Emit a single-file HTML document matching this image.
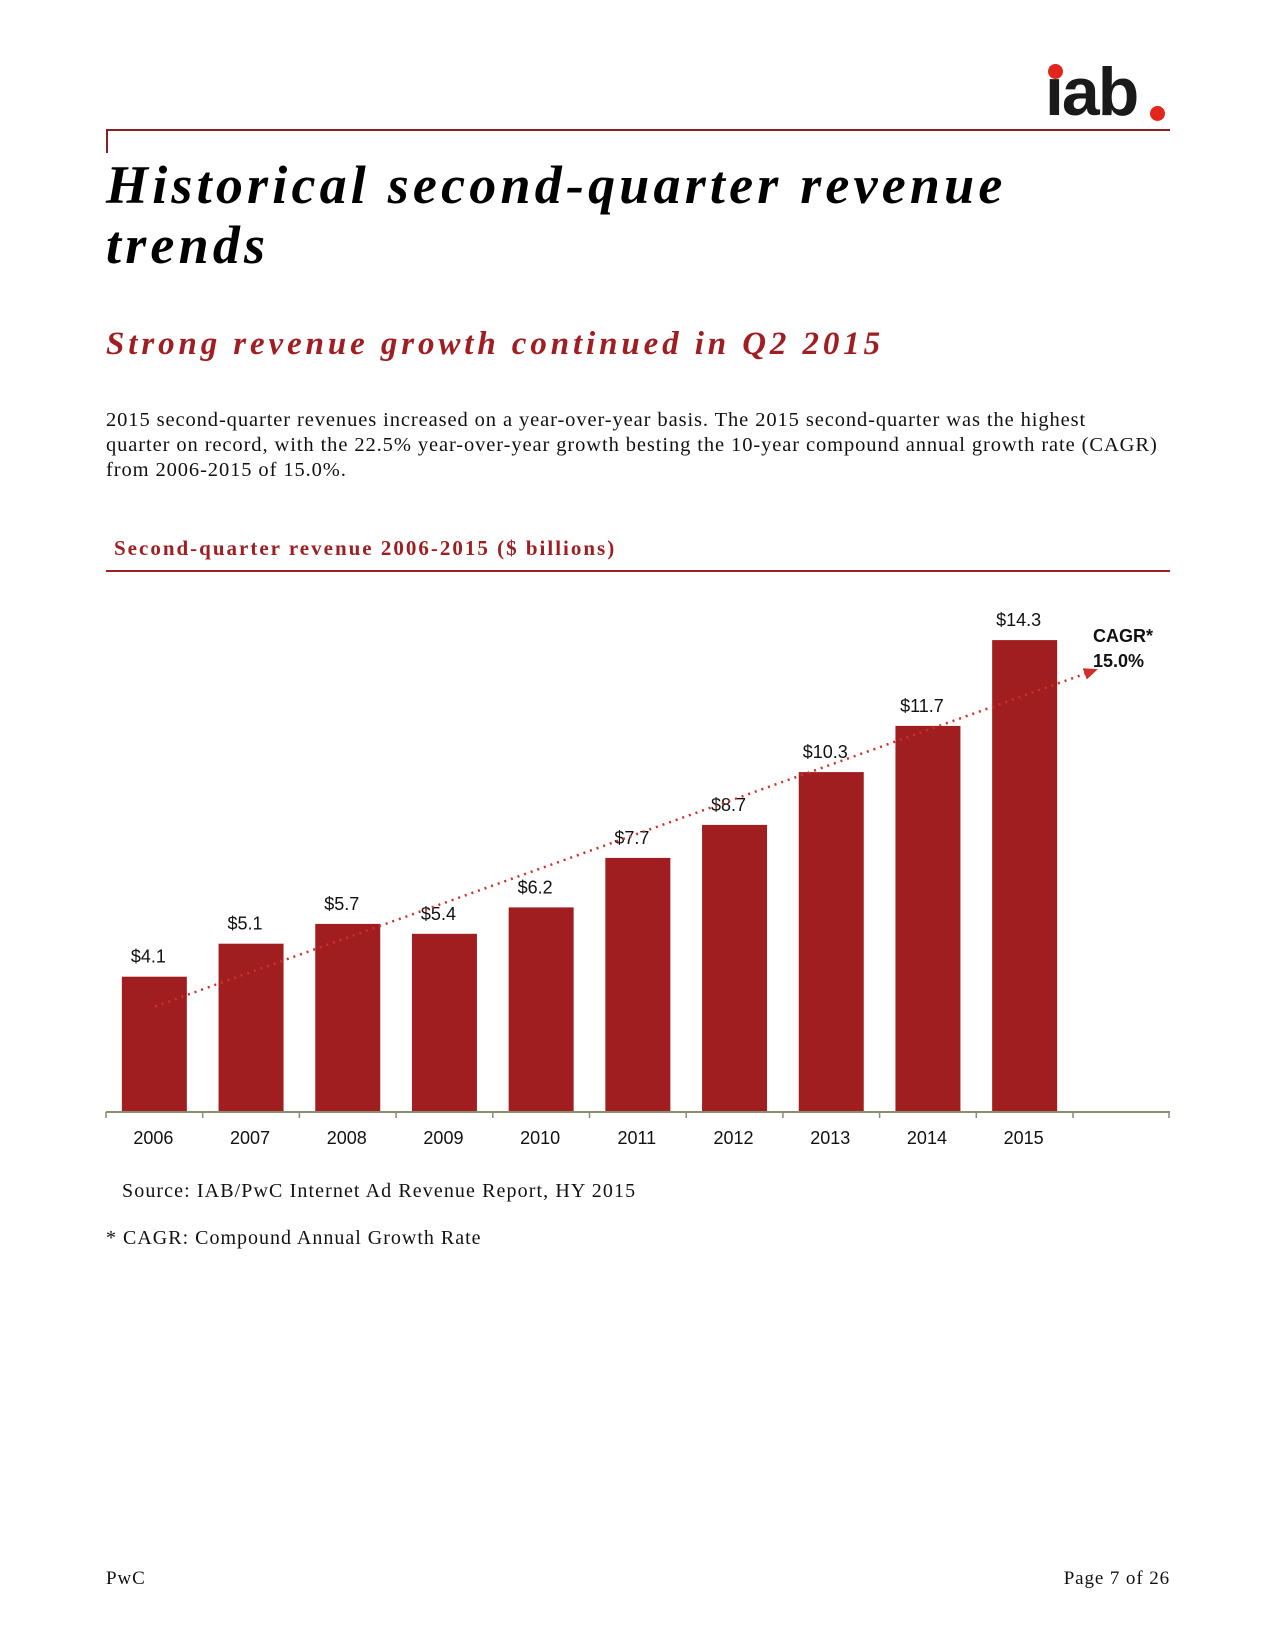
<!DOCTYPE html>
<html><head><meta charset="utf-8"><style>
body{margin:0;width:1275px;height:1650px;background:#fff;position:relative;overflow:hidden;font-family:"Liberation Serif",serif;}
.a{position:absolute;white-space:nowrap;}
.title{font-weight:bold;font-style:italic;font-size:54px;letter-spacing:4.2px;color:#000;}
.sub{font-weight:bold;font-style:italic;font-size:33px;letter-spacing:3.9px;color:#a01e22;}
.p{font-size:20.5px;color:#111;letter-spacing:0.9px;}
</style></head><body>
<div class="a" style="left:106px;top:129px;width:1064px;height:2px;background:#8b1f28"></div>
<div class="a" style="left:106px;top:129px;width:2px;height:24px;background:#8b1f28"></div>
<div class="a" style="left:1045px;top:58px;font-family:'Liberation Sans',sans-serif;font-weight:bold;font-size:68px;color:#1a1a1a;letter-spacing:-2px;line-height:68px">iab</div>
<div class="a" style="left:1048px;top:64px;width:15px;height:15px;border-radius:50%;background:#e2261c"></div>
<div class="a" style="left:1150px;top:106px;width:15px;height:15px;border-radius:50%;background:#e2261c"></div>
<div class="a title" style="left:106px;top:155px;line-height:60px">Historical second-quarter revenue<br>trends</div>
<div class="a sub" style="left:106px;top:326px">Strong revenue growth continued in Q2 2015</div>
<div class="a p" style="left:106px;top:408px;line-height:25px">2015 second-quarter revenues increased on a year-over-year basis. The 2015 second-quarter was the highest<br>quarter on record, with the 22.5% year-over-year growth besting the 10-year compound annual growth rate (CAGR)<br>from 2006-2015 of 15.0%.</div>
<div class="a" style="left:114px;top:536px;font-weight:bold;font-size:21px;letter-spacing:2px;color:#a01e22">Second-quarter revenue 2006-2015 ($ billions)</div>
<div class="a" style="left:106px;top:570px;width:1064px;height:2px;background:#a01e22"></div>
<svg class="a" style="left:0;top:0" width="1275" height="1650" id="chart">
<defs><marker id="arr" markerWidth="14" markerHeight="12" refX="12" refY="6" orient="auto" markerUnits="userSpaceOnUse"><path d="M0,0 L14,6 L0,12 z" fill="#d0302a"/></marker></defs>
</svg>
<div class="a p" style="left:122px;top:1180px;font-size:20px;letter-spacing:1.1px">Source: IAB/PwC Internet Ad Revenue Report, HY 2015</div>
<div class="a p" style="left:106px;top:1227px;font-size:20px;letter-spacing:1px">* CAGR: Compound Annual Growth Rate</div>
<div class="a p" style="left:106px;top:1568px;font-size:19px">PwC</div>
<div class="a p" style="right:105px;top:1568px;font-size:19px">Page 7 of 26</div>
<script>
const years=["2006","2007","2008","2009","2010","2011","2012","2013","2014","2015"];
const revenue=[4.1,5.1,5.7,5.4,6.2,7.7,8.7,10.3,11.7,14.3];
const valueLabels=["$4.1","$5.1","$5.7","$5.4","$6.2","$7.7","$8.7","$10.3","$11.7","$14.3"];
const trendStart=3.2, trendEnd=13.4;
const svg=document.getElementById('chart');const NS='http://www.w3.org/2000/svg';
const x0=106,band=96.7,baseY=1112,scale=33.0,bw=65;
const xPos=i=>x0+band*i+(band-bw)/2;
const yPos=v=>baseY-v*scale;
function mk(t,a){const e=document.createElementNS(NS,t);for(const k in a)e.setAttribute(k,a[k]);svg.appendChild(e);return e;}
years.forEach((y,i)=>{
 const r=mk('rect',{x:xPos(i),y:yPos(revenue[i]),width:bw,height:revenue[i]*scale,fill:'#a01e20'});
 
 
 const t=mk('text',{x:xPos(i)+bw/2-6,y:yPos(revenue[i])-14,'text-anchor':'middle','font-family':'Liberation Sans, sans-serif','font-size':18,fill:'#111'});
 t.textContent=valueLabels[i];
 
 
 const l=mk('text',{x:xPos(i)+bw/2-1,y:1144,'text-anchor':'middle','font-family':'Liberation Sans, sans-serif','font-size':18,fill:'#111'});
 l.textContent=y;
 
 
});
const ax=mk('line',{x1:106,y1:baseY,x2:1170,y2:baseY,stroke:'#8c8c6e','stroke-width':2});


for(let i=0;i<=11;i++){const tk=mk('line',{x1:Math.min(x0+band*i,1169),y1:baseY,x2:Math.min(x0+band*i,1169),y2:baseY+6,stroke:'#8c8c6e','stroke-width':1.5});
 
 }
const tl=mk('line',{x1:155,y1:yPos(trendStart),x2:1096,y2:yPos(trendEnd),stroke:'#d0302a','stroke-width':2.5,'stroke-dasharray':'2 5','marker-end':'url(#arr)'});


const c1=mk('text',{x:1093,y:642,'font-family':'Liberation Sans, sans-serif','font-size':18,'font-weight':'bold',fill:'#111'});c1.textContent='CAGR*';


const c2=mk('text',{x:1093,y:667,'font-family':'Liberation Sans, sans-serif','font-size':18,'font-weight':'bold',fill:'#111'});c2.textContent='15.0%';


</script>
</body></html>
